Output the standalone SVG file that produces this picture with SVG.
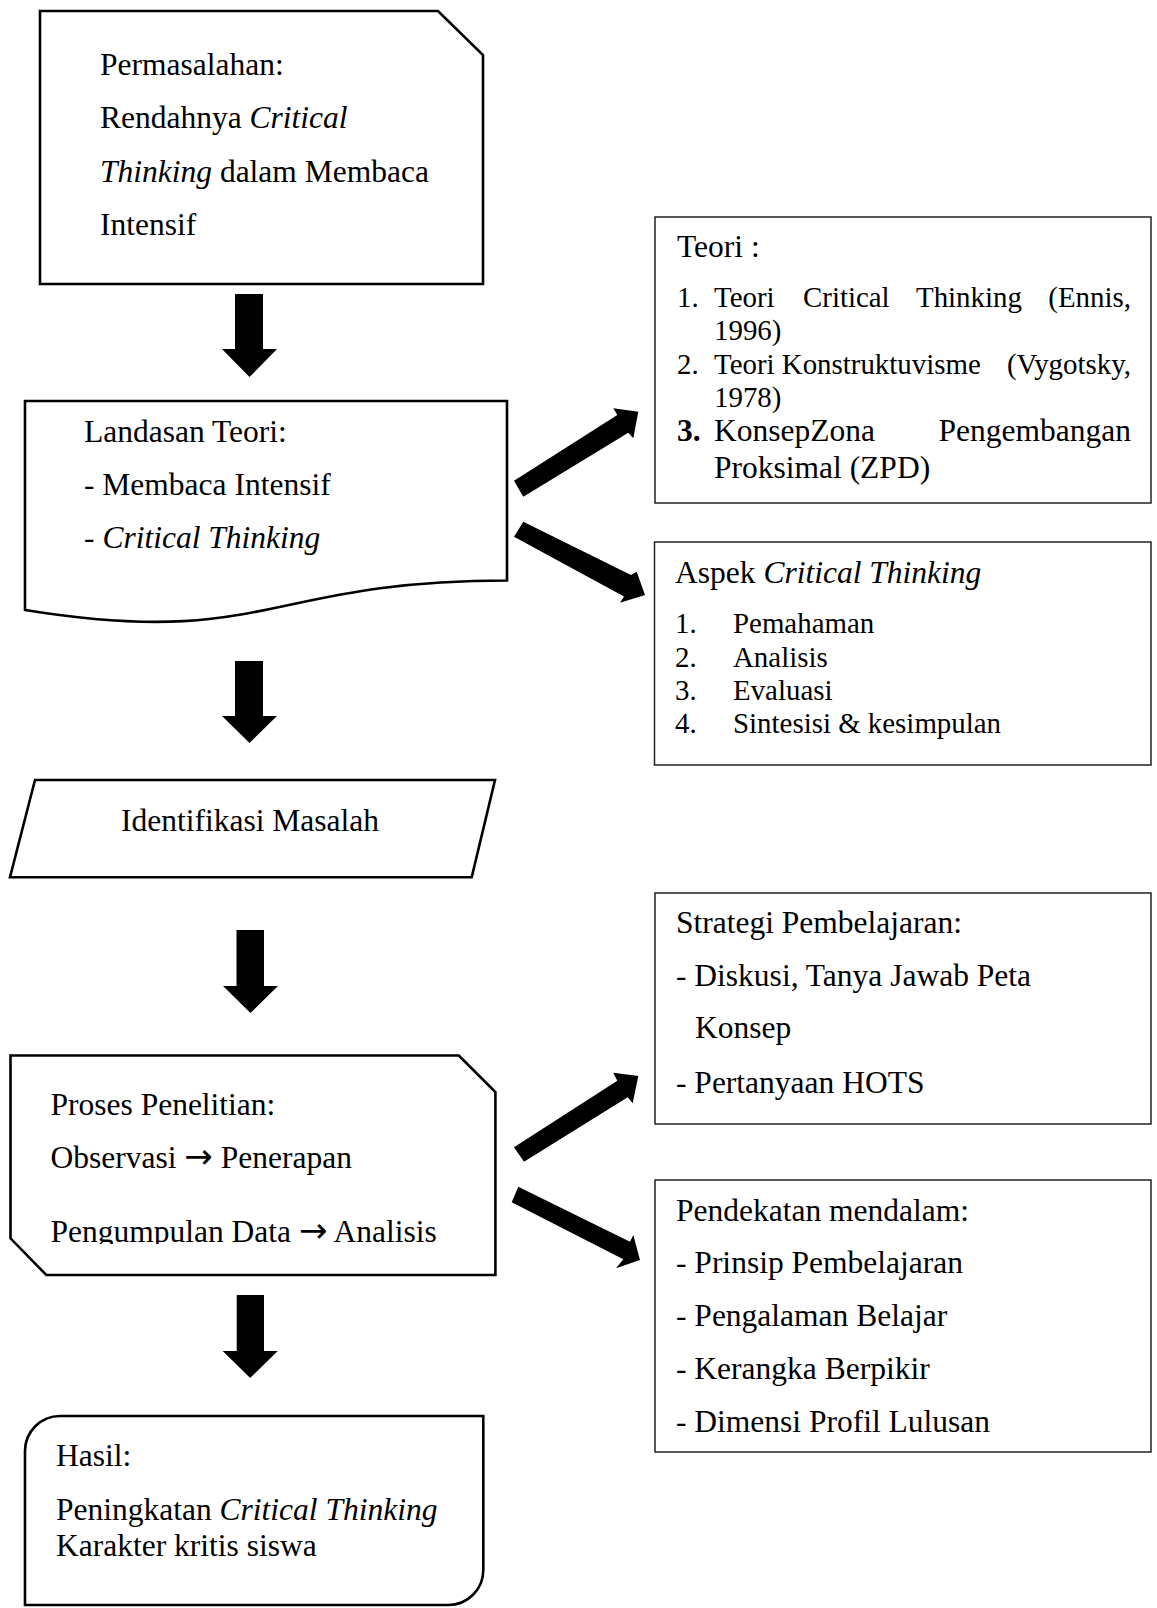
<svg xmlns="http://www.w3.org/2000/svg" width="1157" height="1608" viewBox="0 0 1157 1608">
<style>
  text { font-family: "Liberation Serif", "Times New Roman", serif; font-size: 31.5px; fill: #000; }
  .sm { font-size: 28.9px; }
  .it { font-style: italic; }
  .b { font-weight: bold; }
  .ar { font-family: "DejaVu Sans", sans-serif; font-size: 34px; }
  .lshape { fill: #fff; stroke: #000; stroke-width: 2.6; stroke-linejoin: miter; }
  .rbox { fill: #fff; stroke: #222; stroke-width: 1.5; }
  .arrow { fill: #000; stroke: none; }
</style>
<defs>
  <clipPath id="clipProses">
    <rect x="0" y="1040" width="500" height="204"/>
  </clipPath>
</defs>
<rect x="0" y="0" width="1157" height="1608" fill="#fff"/>

<g id="connectors">
  <polygon class="arrow" points="235,294 263,294 263,349 277,349 249.5,377 222,349 235,349"/>
  <polygon class="arrow" points="235,661 263,661 263,716 277,716 249.5,743 222,716 235,716"/>
  <polygon class="arrow" points="236.5,930 264,930 264,986 278,986 250.5,1013 223,986 236.5,986"/>
  <polygon class="arrow" points="236.7,1295 264,1295 264,1351 277.7,1351 250.2,1378 222.7,1351 236.7,1351"/>
  <polygon class="arrow" points="514,480.7 617.3,415 613.3,408.3 638.3,411.7 633.3,438.3 628.3,432.7 523.3,496.7"/>
  <polygon class="arrow" points="523.3,521.7 631,575 636.7,571.7 645,595 620,602.7 624,596.5 514,536.7"/>
  <polygon class="arrow" points="514,1147.3 617.3,1080.7 613.3,1072.7 638.3,1076 632.7,1103.3 627.7,1097.3 524,1161.7"/>
  <polygon class="arrow" points="518.3,1186.7 630,1241.7 633.3,1235 640,1260 616,1268.3 623.3,1259.3 511.7,1202.3"/>
</g>

<g id="node-permasalahan">
  <path class="lshape" d="M40,11 L438,11 L483,55 L483,284 L40,284 Z"/>
  <text x="100" y="75">Permasalahan:</text>
  <text x="100" y="128">Rendahnya <tspan class="it">Critical</tspan></text>
  <text x="100" y="182"><tspan class="it">Thinking</tspan> dalam Membaca</text>
  <text x="100" y="235">Intensif</text>
</g>

<g id="node-landasan">
  <path class="lshape" d="M25,401 L507,401 L507,580.5 C266,580.5 266,648.8 25,610 Z"/>
  <text x="84" y="442">Landasan Teori:</text>
  <text x="84" y="495">- Membaca Intensif</text>
  <text x="84" y="548">- <tspan class="it">Critical Thinking</tspan></text>
</g>

<g id="node-teori">
  <rect class="rbox" x="655" y="217" width="496" height="286"/>
  <text x="677" y="257">Teori :</text>
  <text class="sm" x="677" y="307">1.</text>
  <text class="sm" x="714" y="307">Teori</text>
  <text class="sm" x="803" y="307">Critical</text>
  <text class="sm" x="916" y="307">Thinking</text>
  <text class="sm" x="1131" y="307" text-anchor="end">(Ennis,</text>
  <text class="sm" x="714" y="340">1996)</text>
  <text class="sm" x="677" y="374">2.</text>
  <text class="sm" x="714" y="374">Teori Konstruktuvisme</text>
  <text class="sm" x="1131" y="374" text-anchor="end">(Vygotsky,</text>
  <text class="sm" x="714" y="407">1978)</text>
  <text class="b" x="677" y="441">3.</text>
  <text x="714" y="441">KonsepZona</text>
  <text x="1131" y="441" text-anchor="end">Pengembangan</text>
  <text x="714" y="478">Proksimal (ZPD)</text>
</g>

<g id="node-aspek">
  <rect class="rbox" x="654.5" y="542" width="496.5" height="223"/>
  <text x="675" y="583">Aspek <tspan class="it">Critical Thinking</tspan></text>
  <text class="sm" x="675" y="633">1.</text>
  <text class="sm" x="733" y="633">Pemahaman</text>
  <text class="sm" x="675" y="667">2.</text>
  <text class="sm" x="733" y="667">Analisis</text>
  <text class="sm" x="675" y="700">3.</text>
  <text class="sm" x="733" y="700">Evaluasi</text>
  <text class="sm" x="675" y="733">4.</text>
  <text class="sm" x="733" y="733">Sintesisi &amp; kesimpulan</text>
</g>

<g id="node-identifikasi">
  <path class="lshape" d="M35,780 L495,780 L471.7,877.3 L10,877.3 Z"/>
  <text x="121" y="831">Identifikasi Masalah</text>
</g>

<g id="node-proses">
  <path class="lshape" d="M10.5,1055.5 L458.8,1055.5 L495.4,1092 L495.4,1275 L46.3,1275 L10.5,1238.3 Z"/>
  <text x="50.5" y="1115">Proses Penelitian:</text>
  <text x="50.5" y="1167.5">Observasi <tspan class="ar">→</tspan> Penerapan</text>
  <text x="50.5" y="1241.5" clip-path="url(#clipProses)">Pengumpulan Data <tspan class="ar">→</tspan> Analisis</text>
</g>

<g id="node-strategi">
  <rect class="rbox" x="655" y="893" width="496" height="231"/>
  <text x="676" y="933">Strategi Pembelajaran:</text>
  <text x="676" y="986">- Diskusi, Tanya Jawab Peta</text>
  <text x="695" y="1038">Konsep</text>
  <text x="676" y="1093">- Pertanyaan HOTS</text>
</g>

<g id="node-pendekatan">
  <rect class="rbox" x="655" y="1180" width="496" height="272"/>
  <text x="676" y="1220.5">Pendekatan mendalam:</text>
  <text x="676" y="1273">- Prinsip Pembelajaran</text>
  <text x="676" y="1326">- Pengalaman Belajar</text>
  <text x="676" y="1379">- Kerangka Berpikir</text>
  <text x="676" y="1432">- Dimensi Profil Lulusan</text>
</g>

<g id="node-hasil">
  <path class="lshape" d="M25,1605 L25,1451 A35,35 0 0 1 60,1416 L483.3,1416 L483.3,1570 A35,35 0 0 1 448.3,1605 Z"/>
  <text x="56" y="1466">Hasil:</text>
  <text x="56" y="1520">Peningkatan <tspan class="it">Critical Thinking</tspan></text>
  <text x="56" y="1556">Karakter kritis siswa</text>
</g>
</svg>
